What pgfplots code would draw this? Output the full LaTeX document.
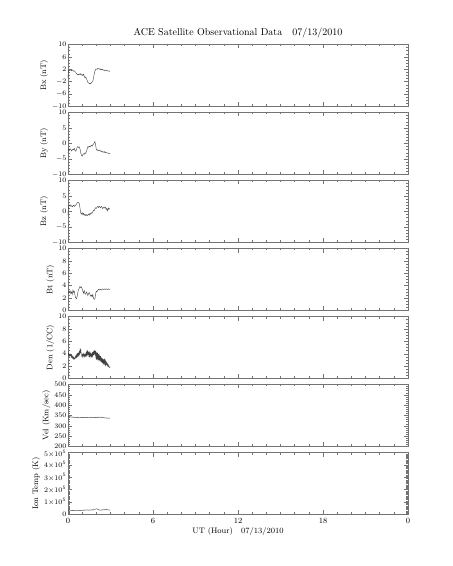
\documentclass[border=0pt]{standalone}
\usepackage{pgfplots}
\pgfplotsset{compat=1.18}
\usepackage{pgfplotstable}

\pgfplotstableread{
t v
0.00 -0.8
0.03 1.5
0.06 1.8
0.10 1.6
0.15 1.9
0.20 1.7
0.25 1.5
0.30 1.8
0.35 1.6
0.40 1.4
0.45 1.5
0.50 1.2
0.55 1.0
0.60 0.6
0.65 0.3
0.70 0.4
0.75 0.2
0.80 0.5
0.85 0.3
0.90 0.6
0.95 0.1
1.00 0.3
1.05 0.0
1.10 0.4
1.15 -0.3
1.20 -0.8
1.25 -0.5
1.30 -1.0
1.35 -1.6
1.40 -2.2
1.45 -2.4
1.50 -2.6
1.55 -2.5
1.60 -2.7
1.65 -2.3
1.70 -2.1
1.75 -1.9
1.80 -0.8
1.85 0.5
1.90 1.4
1.95 1.9
2.00 2.1
2.05 2.0
2.10 2.3
2.15 2.2
2.20 2.0
2.25 2.2
2.30 1.9
2.35 2.1
2.40 1.8
2.45 2.0
2.50 1.7
2.55 1.8
2.60 1.6
2.65 1.7
2.70 1.6
2.75 1.5
2.80 1.6
2.85 1.4
2.90 1.5
2.95 1.3
}\tbx

\pgfplotstableread{
t v
0.00 -3.2
0.03 -2.0
0.06 -1.8
0.10 -2.2
0.15 -1.7
0.20 -1.9
0.25 -2.4
0.30 -2.1
0.35 -1.8
0.40 -2.0
0.45 -1.6
0.50 -2.2
0.55 -2.5
0.60 -2.0
0.65 -1.2
0.70 -1.0
0.75 -1.3
0.80 -1.1
0.85 -1.8
0.90 -3.0
0.95 -3.8
1.00 -4.1
1.05 -3.6
1.10 -3.3
1.15 -3.5
1.20 -3.0
1.25 -3.2
1.30 -2.6
1.35 -1.9
1.40 -1.0
1.45 -1.2
1.50 -0.9
1.55 -1.1
1.60 -0.8
1.65 -0.6
1.70 -0.9
1.75 -0.4
1.80 -0.2
1.85 0.2
1.90 0.6
1.95 -0.5
2.00 -1.9
2.05 -2.2
2.10 -2.0
2.15 -2.4
2.20 -2.3
2.25 -2.1
2.30 -2.5
2.35 -2.6
2.40 -2.4
2.45 -2.8
2.50 -2.7
2.55 -2.9
2.60 -2.6
2.65 -3.0
2.70 -2.9
2.75 -3.1
2.80 -3.0
2.85 -3.2
2.90 -3.3
2.95 -3.1
}\tby

\pgfplotstableread{
t v
0.00 -1.3
0.03 1.5
0.06 2.0
0.10 1.8
0.15 2.2
0.20 1.7
0.25 1.9
0.30 1.5
0.35 1.8
0.40 2.0
0.45 1.6
0.50 1.9
0.55 2.1
0.60 2.4
0.65 2.8
0.70 3.0
0.75 2.9
0.80 2.5
0.85 1.0
0.90 -0.5
0.95 -0.8
1.00 -0.3
1.05 -1.1
1.10 -0.6
1.15 -1.2
1.20 -0.9
1.25 -1.3
1.30 -1.0
1.35 -1.4
1.40 -1.1
1.45 -0.8
1.50 -1.2
1.55 -0.6
1.60 -0.9
1.65 -0.4
1.70 -0.6
1.75 -0.1
1.80 0.4
1.85 0.2
1.90 0.9
1.95 1.2
2.00 1.0
2.05 1.4
2.10 1.6
2.15 1.3
2.20 1.7
2.25 1.5
2.30 1.2
2.35 1.6
2.40 1.4
2.45 0.9
2.50 1.3
2.55 1.5
2.60 1.1
2.65 1.3
2.70 0.6
2.75 1.0
2.80 0.2
2.85 1.1
2.90 0.7
2.95 1.0
}\tbz

\pgfplotstableread{
t v
0.00 2.8
0.05 3.1
0.10 2.9
0.15 3.2
0.20 2.7
0.25 3.0
0.30 2.6
0.35 3.3
0.40 2.9
0.45 3.1
0.50 2.4
0.55 2.0
0.60 1.9
0.65 2.3
0.70 3.0
0.75 3.4
0.80 3.6
0.85 3.9
0.90 3.7
0.95 3.8
1.00 3.5
1.05 3.1
1.10 2.8
1.15 3.2
1.20 2.7
1.25 2.6
1.30 3.0
1.35 2.8
1.40 2.4
1.45 2.7
1.50 2.9
1.55 2.6
1.60 2.3
1.65 2.5
1.70 2.2
1.75 2.6
1.80 2.0
1.85 1.8
1.90 1.9
1.95 2.7
2.00 3.1
2.05 3.0
2.10 3.3
2.15 3.4
2.20 3.3
2.25 3.4
2.30 3.4
2.35 3.3
2.40 3.4
2.45 3.5
2.50 3.4
2.55 3.4
2.60 3.5
2.65 3.4
2.70 3.4
2.75 3.5
2.80 3.4
2.85 3.5
2.90 3.4
2.95 3.4
}\tbt

\pgfplotstableread{
t v
0.000 4.2
0.025 3.8
0.050 4.0
0.075 3.7
0.100 3.9
0.125 3.6
0.150 3.9
0.175 3.7
0.200 3.8
0.225 3.5
0.250 3.7
0.275 3.4
0.300 3.6
0.325 3.3
0.350 3.5
0.375 3.2
0.400 3.4
0.425 3.1
0.450 3.3
0.475 3.2
0.500 3.5
0.525 3.3
0.550 3.6
0.575 3.4
0.600 3.8
0.625 3.5
0.650 3.9
0.675 3.6
0.700 4.0
0.725 3.7
0.750 4.1
0.775 3.8
0.800 4.3
0.825 4.0
0.850 4.6
0.875 4.2
0.900 4.8
0.925 4.1
0.950 3.9
0.975 3.6
1.000 3.8
1.025 3.5
1.050 3.9
1.075 3.6
1.100 4.0
1.125 3.7
1.150 3.9
1.175 3.5
1.200 3.8
1.225 3.6
1.250 4.0
1.275 3.7
1.300 4.2
1.325 3.8
1.350 4.4
1.375 3.9
1.400 4.5
1.425 3.8
1.450 4.3
1.475 3.5
1.500 4.2
1.525 3.4
1.550 4.4
1.575 3.6
1.600 4.1
1.625 3.3
1.650 4.0
1.675 3.5
1.700 4.3
1.725 3.4
1.750 4.2
1.775 3.6
1.800 4.4
1.825 3.8
1.850 4.5
1.875 3.9
1.900 4.6
1.925 3.7
1.950 4.4
1.975 3.2
2.000 4.3
2.025 3.0
2.050 4.1
2.075 3.1
2.100 4.2
2.125 2.9
2.150 3.9
2.175 3.0
2.200 4.0
2.225 2.8
2.250 3.7
2.275 2.9
2.300 3.6
2.325 2.7
2.350 3.4
2.375 2.6
2.400 3.3
2.425 2.5
2.450 3.2
2.475 2.4
2.500 3.1
2.525 2.5
2.550 3.0
2.575 2.4
2.600 2.9
2.625 2.3
2.650 2.8
2.675 2.2
2.700 2.6
2.725 2.3
2.750 2.5
2.775 2.1
2.800 2.3
2.825 2.0
2.850 2.2
2.875 1.9
2.900 2.0
2.925 1.8
2.950 1.8
2.975 1.7
}\tden

\pgfplotstableread{
t v
0.00 346
0.05 344
0.10 345
0.15 343
0.20 344
0.25 342
0.30 343
0.35 341
0.40 342
0.45 340
0.50 341
0.55 339
0.60 340
0.65 341
0.70 339
0.75 340
0.80 338
0.85 340
0.90 339
0.95 341
1.00 340
1.05 339
1.10 341
1.15 340
1.20 339
1.25 340
1.30 341
1.35 339
1.40 340
1.45 342
1.50 341
1.55 340
1.60 342
1.65 341
1.70 340
1.75 341
1.80 342
1.85 340
1.90 341
1.95 339
2.00 341
2.05 342
2.10 340
2.15 341
2.20 343
2.25 341
2.30 342
2.35 340
2.40 341
2.45 339
2.50 340
2.55 338
2.60 339
2.65 338
2.70 339
2.75 337
2.80 338
2.85 337
2.90 338
2.95 336
}\tvel

\pgfplotstableread{
t v
0.00 38000
0.05 34000
0.10 36000
0.15 33000
0.20 35000
0.25 32000
0.30 34000
0.35 31000
0.40 33000
0.45 30000
0.50 32000
0.55 29000
0.60 31000
0.65 30000
0.70 32000
0.75 31000
0.80 33000
0.85 30000
0.90 32000
0.95 31000
1.00 34000
1.05 35000
1.10 33000
1.15 36000
1.20 34000
1.25 37000
1.30 35000
1.35 38000
1.40 36000
1.45 35000
1.50 37000
1.55 34000
1.60 36000
1.65 38000
1.70 36000
1.75 39000
1.80 37000
1.85 40000
1.90 42000
1.95 44000
2.00 46000
2.05 45000
2.10 43000
2.15 40000
2.20 37000
2.25 35000
2.30 36000
2.35 35000
2.40 38000
2.45 36000
2.50 39000
2.55 37000
2.60 40000
2.65 38000
2.70 41000
2.75 39000
2.80 37000
2.85 38000
2.90 36000
2.95 35000
}\ttemp

\pgfplotsset{
  panel/.style={
    scale only axis, width=340pt, height=62pt,
    anchor=north west,
    xmin=0, xmax=24, xtick={0,6,12,18,24}, minor x tick num=5,
    xticklabels={},
    tick align=inside,
    major tick length=4pt, minor tick length=2pt,
    axis line style={black!55, line width=0.5pt},
    every tick/.style={black!55, line width=0.4pt},
    tick label style={font=\fontsize{7}{8}\selectfont, inner sep=1.5pt},
    xticklabel style={font=\fontsize{8}{9}\selectfont, inner sep=3pt},
    label style={font=\fontsize{8}{10}\selectfont},
    scaled y ticks=false,
    ylabel style={yshift=-1pt},
  },
  dat/.style={black!75, line width=0.4pt, mark=none},
}

\begin{document}
\begin{tikzpicture}
\useasboundingbox (0,0) rectangle (453pt,566pt);

\begin{axis}[panel, at={(68pt,521.5pt)},
  ymin=-10, ymax=10, ytick={-10,-6,-2,2,6,10}, minor y tick num=3,
  ylabel={Bx (nT)},
  title={ACE Satellite Observational Data\quad 07/13/2010},
  title style={font=\fontsize{10}{12}\selectfont, yshift=-3pt}]
\addplot[dat] table[x=t,y=v] {\tbx};
\end{axis}

\begin{axis}[panel, at={(68pt,453.5pt)},
  ymin=-10, ymax=10, ytick={-10,-5,0,5,10}, minor y tick num=4,
  ylabel={By (nT)}]
\addplot[dat] table[x=t,y=v] {\tby};
\end{axis}

\begin{axis}[panel, at={(68pt,385.5pt)},
  ymin=-10, ymax=10, ytick={-10,-5,0,5,10}, minor y tick num=4,
  ylabel={Bz (nT)}]
\addplot[dat] table[x=t,y=v] {\tbz};
\end{axis}

\begin{axis}[panel, at={(68pt,317.5pt)},
  ymin=0, ymax=10, ytick={0,2,4,6,8,10}, minor y tick num=3,
  ylabel={Bt (nT)}]
\addplot[dat] table[x=t,y=v] {\tbt};
\end{axis}

\begin{axis}[panel, at={(68pt,249.5pt)},
  ymin=0, ymax=10, ytick={0,2,4,6,8,10}, minor y tick num=3,
  ylabel={Den (1/CC)}]
\addplot[dat] table[x=t,y=v] {\tden};
\end{axis}

\begin{axis}[panel, at={(68pt,181.5pt)},
  ymin=200, ymax=500, ytick={200,250,...,500}, minor y tick num=4,
  ylabel={Vel (Km/sec)}]
\addplot[dat] table[x=t,y=v] {\tvel};
\end{axis}

\begin{axis}[panel, at={(68pt,113.5pt)},
  ymin=0, ymax=500000, ytick={0,100000,200000,300000,400000,500000},
  yticklabels={0,$1{\times}10^{5}$,$2{\times}10^{5}$,$3{\times}10^{5}$,$4{\times}10^{5}$,\raisebox{-4.5pt}[0pt][0pt]{$5{\times}10^{5}$}},
  minor y tick num=9,
  ylabel={Ion Temp (K)},
  xticklabels={0,6,12,18,0},
  xlabel={UT (Hour)\quad 07/13/2010},
  xlabel style={yshift=2pt}]
\addplot[dat] table[x=t,y=v] {\ttemp};
\end{axis}

\end{tikzpicture}
\end{document}
